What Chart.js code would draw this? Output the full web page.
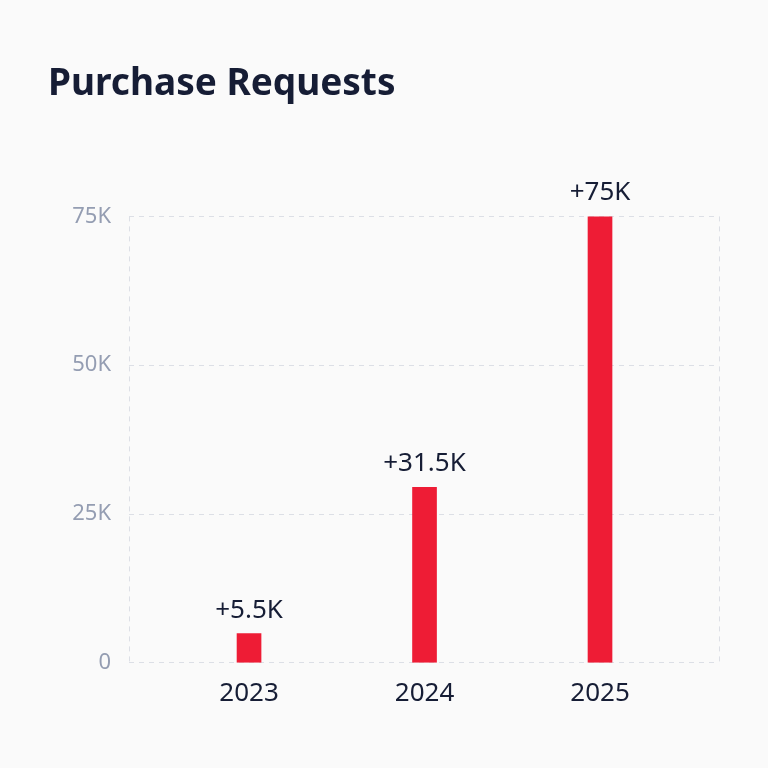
<!DOCTYPE html>
<html>
<head>
<meta charset="utf-8">
<script src="https://cdn.jsdelivr.net/npm/chart.js@4.4.0/dist/chart.umd.min.js"></script>
<style>
  html, body { margin: 0; padding: 0; background: #fafafa; }
  #wrap { width: 768px; height: 768px; }
</style>
</head>
<body>
<div id="wrap"><canvas id="c" width="768" height="768"></canvas></div>
<script>
const categories = [2023, 2024, 2025];
const barValues = [4900, 29500, 75000];
const barLabels = ['+5.5K', '+31.5K', '+75K'];
const yTickValues = [0, 25000, 50000, 75000];
const yTickLabels = ['0', '25K', '50K', '75K'];

const FONT = '"Noto Sans", sans-serif';
const X_MIN = 2022.316, X_MAX = 2025.678;

const labelPlugin = {
  id: 'barLabels',
  afterDatasetsDraw(chart) {
    const ctx = chart.ctx;
    const meta = chart.getDatasetMeta(0);
    ctx.save();
    ctx.font = '400 26px ' + FONT;
    ctx.fillStyle = '#161d35';
    ctx.textAlign = 'center';
    ctx.textBaseline = 'alphabetic';
    meta.data.forEach((el, i) => {
      ctx.fillText(barLabels[i], el.x, el.y - 16);
    });
    ctx.restore();
  }
};

new Chart(document.getElementById('c'), {
  type: 'bar',
  data: {
    datasets: [{
      data: categories.map((c, i) => ({ x: c, y: barValues[i] })),
      backgroundColor: '#ee1c35',
      barThickness: 24,
      borderWidth: 0
    }]
  },
  options: {
    responsive: false,
    animation: false,
    layout: { padding: { left: 48, right: 49, top: 0, bottom: 44 } },
    plugins: {
      legend: { display: false },
      tooltip: { enabled: false },
      title: {
        display: true,
        text: 'Purchase Requests',
        align: 'start',
        color: '#161d35',
        font: { family: FONT, size: 37, weight: '700' },
        padding: { top: 62, bottom: 110 }
      }
    },
    scales: {
      x: {
        type: 'linear',
        offset: false,
        min: X_MIN,
        max: X_MAX,
        afterBuildTicks(scale) {
          scale.ticks = [X_MIN].concat(categories, [X_MAX]).map(v => ({ value: v }));
        },
        ticks: {
          autoSkip: false,
          maxRotation: 0,
          color: '#161d35',
          font: { family: FONT, size: 26 },
          padding: 15,
          callback: (v) => categories.includes(v) ? String(v) : ''
        },
        grid: {
          offset: false,
          drawTicks: false,
          color: (ctx) => (ctx.tick && categories.includes(ctx.tick.value)) ? 'rgba(0,0,0,0)' : '#dcdfe6',
          lineWidth: 1
        },
        border: { display: false, dash: [5, 5] }
      },
      y: {
        min: 0,
        max: 75000,
        afterBuildTicks(scale) {
          scale.ticks = yTickValues.map(v => ({ value: v }));
        },
        afterFit(scale) { scale.width = 81; },
        ticks: {
          color: '#949db2',
          font: { family: FONT, size: 22 },
          padding: 18,
          callback: (v) => yTickLabels[yTickValues.indexOf(v)]
        },
        grid: { drawTicks: false, color: '#dcdfe6', lineWidth: 1 },
        border: { display: false, dash: [5, 5] }
      }
    }
  },
  plugins: [labelPlugin]
});
</script>
</body>
</html>
